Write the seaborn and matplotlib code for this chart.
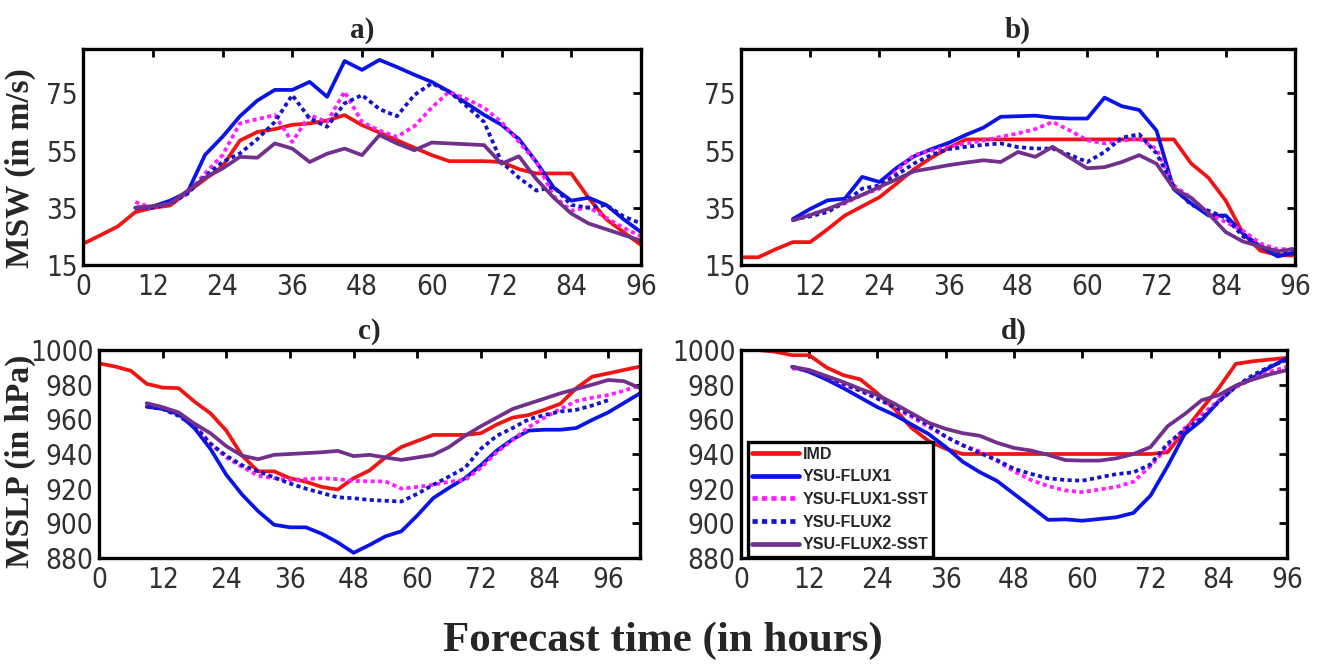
import matplotlib
matplotlib.use("Agg")
import matplotlib.pyplot as plt
from matplotlib import font_manager
from matplotlib.font_manager import FontProperties
import pandas as pd
import seaborn as sns

# ── Data (3-hourly) ───────────────────────────────────────────────────────────
SERIES = ["IMD", "YSU-FLUX1", "YSU-FLUX1-SST", "YSU-FLUX2", "YSU-FLUX2-SST"]

HOURS_OBS = list(range(0, 97, 3))      # IMD, panels a b d
HOURS_OBS_C = list(range(0, 103, 3))   # IMD, panel c
HOURS_MODEL = list(range(9, 97, 3))    # model runs start at +9 h
HOURS_MODEL_C = list(range(9, 103, 3))

X_TICKS = [0, 12, 24, 36, 48, 60, 72, 84, 96]
MSW_TICKS = [15, 35, 55, 75]
MSLP_TICKS = [880, 900, 920, 940, 960, 980, 1000]

# a) MSW, first cyclone
MSW_A_IMD = [22.4, 25.4, 28.5, 33.5, 35, 35.8, 40.5, 45, 49.5, 58.5, 61.5,
             62.5, 64, 64.5, 65.5, 67.4, 63.9, 61.3, 58.6, 56, 53.4, 51.3,
             51.3, 51.3, 51, 48.5, 47, 47, 47, 38.4, 31, 26.5, 22]
MSW_A_FLUX1 = [35, 35.5, 37.5, 40.5, 53.5, 59.8, 67, 72.5, 76.2, 76.2, 79,
               73.8, 86.3, 83.2, 86.7, 84.2, 81.5, 79, 75.6, 71.5, 67.5, 64,
               59, 51, 42, 37.5, 38.5, 36, 31, 26.5]
MSW_A_FLUX1_SST = [37, 35, 36.5, 40, 47, 53.4, 64.5, 66, 67.4, 58, 67.4, 65,
                   75.6, 65, 62, 59.8, 63.5, 70, 75.6, 73, 70, 65, 58, 51,
                   39, 34, 35.2, 31.5, 28, 25]
MSW_A_FLUX2 = [35, 35, 36.5, 40, 46, 51, 54, 59, 65, 74.4, 66.2, 63.3, 71.5,
               74.4, 69.5, 67, 74.4, 78.5, 75.6, 70.5, 65, 51, 45.5, 41,
               42.3, 36, 35, 36, 32, 29.5]
MSW_A_FLUX2_SST = [35, 35.5, 36.5, 41, 45.5, 48.7, 52.8, 52.5, 57.5, 55.7, 51,
                   53.9, 55.7, 53.4, 60.4, 57.5, 55.1, 57.8, 57.5, 57.2, 56.9,
                   50.4, 53, 45, 38.5, 33, 29.5, 27.5, 25.5, 23.5]

# b) MSW, second cyclone
MSW_B_IMD = [17.7, 17.7, 20.5, 23, 23, 27.5, 32.3, 35.5, 38.7, 43.5, 48.5,
             52.5, 56, 58.9, 58.9, 58.9, 58.9, 58.9, 58.9, 58.9, 58.9, 58.9,
             58.9, 58.9, 58.9, 58.9, 50.5, 45.5, 37.5, 26, 20, 18.5, 18.3]
MSW_B_FLUX1 = [31.1, 34.6, 37.6, 38.2, 45.8, 44, 49, 53, 55.5, 57.7, 60.5, 63,
               66.8, 67, 67.2, 66.5, 66.2, 66.2, 73.5, 70.5, 69.2, 62, 41.5,
               36.5, 32.3, 32.3, 26, 21.5, 18, 19.4]
MSW_B_FLUX1_SST = [30.6, 32.5, 34.5, 36.5, 39.5, 41.7, 48, 53.4, 55, 56.3,
                   57.5, 58.5, 59.8, 61, 62.5, 65, 62, 58.6, 57.5, 58.5, 59.2,
                   55.5, 42.8, 38.5, 33, 30, 27, 22.5, 20.5, 20.6]
MSW_B_FLUX2 = [31, 32, 33.5, 37, 41.7, 42.8, 46.5, 50.5, 53.5, 55.5, 56.3, 57,
               57.5, 56.2, 55.7, 55.7, 53.5, 51, 54.5, 59.5, 60.7, 54, 42.5,
               36, 34, 31.5, 25, 21.5, 19.5, 18.9]
MSW_B_FLUX2_SST = [30.6, 32.5, 34.5, 37, 39.5, 42.3, 45, 47.8, 48.8, 49.9,
                   50.8, 51.6, 51, 54.5, 52.8, 56.3, 52.5, 48.8, 49.2, 51,
                   53.4, 50.4, 41.7, 38.5, 33, 26.5, 23.2, 21.5, 19.8, 20.6]

# c) MSLP, first cyclone
MSLP_C_IMD = [992.3, 990.5, 988, 980.5, 978.3, 978, 970.2, 963.5, 953.5, 939,
              930, 930, 926, 924, 921, 919.5, 926, 930.5, 938, 944, 947.5,
              951, 951, 951, 952, 957, 961, 962.5, 965.5, 969, 978, 984.6,
              986.5, 988.5, 990.4]
MSLP_C_FLUX1 = [967.3, 966, 963, 954.9, 943, 928, 916.5, 907, 899.2, 897.7,
                897.7, 894, 889, 883, 887.5, 892.5, 895.4, 904.5, 914.5,
                920.5, 926, 933.5, 942, 948.5, 953.5, 954, 954, 955, 959.7,
                964, 969.5, 975]
MSLP_C_FLUX1_SST = [968.3, 966, 962.5, 956.8, 946, 938, 932.5, 927.5, 926,
                    925, 925.5, 926, 925.5, 924.5, 924.2, 924.2, 920, 921,
                    922.2, 924, 925, 932, 941, 948, 955.5, 961, 966, 970.5,
                    972.5, 974, 976.5, 979.8]
MSLP_C_FLUX2 = [967.3, 966, 962, 956, 946, 939, 933.5, 930, 926.5, 923, 920,
                917.5, 915, 914.5, 913.5, 913, 912.6, 917, 922.2, 927, 932,
                943, 950.5, 955, 960, 962.5, 964.5, 965.5, 968, 971]
MSLP_C_FLUX2_SST = [969.3, 967, 964, 957.5, 952, 944.5, 939, 937, 939.5, 940,
                    940.5, 941, 941.8, 938.8, 939.5, 938, 936.6, 938, 939.5,
                    944, 950.5, 956, 961, 966, 969, 972, 975, 977.5, 980,
                    982.7, 982, 978]

# d) MSLP, second cyclone
MSLP_D_IMD = [1000, 1000, 999, 997, 997, 990, 985.5, 983, 975, 966, 955,
              947.5, 943, 940, 940, 940, 940, 940, 940, 940, 940, 940, 940,
              940, 940, 941, 953.5, 966, 978, 992, 993.5, 994.5, 995.5]
MSLP_D_FLUX1 = [990.3, 987.4, 983, 978, 972.5, 967, 962.5, 957, 951.5, 944,
                935.5, 929.5, 924.5, 917, 909.5, 902, 902.3, 901.5, 902.5,
                903.5, 906, 916, 933, 951.5, 959.5, 970.5, 979, 984, 990,
                995.2]
MSLP_D_FLUX1_SST = [989.4, 988, 984, 980, 976.5, 972, 966.5, 961.5, 955.5,
                    950, 945, 941.5, 936, 930, 925, 921.5, 919, 918, 919.5,
                    921, 924, 933, 944, 955, 962.5, 971, 978.5, 983.5, 987.5,
                    990.3]
MSLP_D_FLUX2 = [990.3, 988, 984, 980.5, 976.5, 972, 967, 962.5, 956.5, 950,
                945, 940.5, 936.5, 931.5, 928.5, 926, 925, 924.6, 926.5,
                928.4, 929.4, 934, 946, 954, 960.5, 970, 979, 985.5, 990.5,
                994.2]
MSLP_D_FLUX2_SST = [990.3, 988.5, 985, 981.5, 977.5, 974, 969, 963.5, 958,
                    954.5, 952, 950.5, 946.5, 943.5, 942, 939.5, 936.5, 936.2,
                    936.2, 937.5, 940, 944, 956, 963, 971, 974, 979.5, 983,
                    986, 988.4]

COLORS = {
    "IMD": "#f01414",
    "YSU-FLUX1": "#0a14e6",
    "YSU-FLUX1-SST": "#ff1eff",
    "YSU-FLUX2": "#1414c8",
    "YSU-FLUX2-SST": "#70308c",
}
DOTTED = {"YSU-FLUX1-SST", "YSU-FLUX2"}

# ── Style ─────────────────────────────────────────────────────────────────────
sns.set_theme(style="white")
plt.rcParams["font.family"] = ["DejaVu Sans"]

_fonts = font_manager.fontManager.ttflist
_names = {f.name for f in _fonts}
if "DejaVu Sans Condensed" in _names:
    TICK_FONT = FontProperties(family="DejaVu Sans Condensed", size=20)
elif any(f.name == "DejaVu Sans" and f.stretch == "condensed" for f in _fonts):
    TICK_FONT = FontProperties(family="DejaVu Sans", stretch="condensed", size=20)
elif "Liberation Sans Narrow" in _names:
    TICK_FONT = FontProperties(family="Liberation Sans Narrow", size=21)
else:
    TICK_FONT = FontProperties(family="DejaVu Sans", size=17)

SERIF = "Liberation Serif"

W, H = 1327, 670
fig = plt.figure(figsize=(W / 100, H / 100), dpi=100)


def add_axes(left, right, top, bottom):
    # pixel box -> figure fraction
    return fig.add_axes([left / W, 1 - bottom / H, (right - left) / W, (bottom - top) / H])


def draw(ax, obs_hours, obs, model_hours, models, xlim, ylim, yticks, title):
    frame = pd.DataFrame({"hour": obs_hours, "value": obs})
    sns.lineplot(data=frame, x="hour", y="value", ax=ax, color=COLORS["IMD"],
                 lw=2.7, label="IMD", legend=False)
    for name, (hours, vals) in zip(SERIES[1:], zip(model_hours, models)):
        frame = pd.DataFrame({"hour": hours, "value": vals})
        style = dict(dashes=(1.1, 0.9)) if name in DOTTED else {}
        sns.lineplot(data=frame, x="hour", y="value", ax=ax, color=COLORS[name],
                     lw=2.7, label=name, legend=False, **style)
    ax.set_xlim(*xlim)
    ax.set_ylim(*ylim)
    ax.set_xticks(X_TICKS)
    ax.set_yticks(yticks)
    ax.set_xlabel("")
    ax.set_ylabel("")
    ax.tick_params(direction="in", top=True, right=True, length=6, width=2,
                   color="black", labelcolor="#303030")
    ax.tick_params(axis="x", pad=6)
    ax.tick_params(axis="y", pad=4)
    for lbl in ax.get_xticklabels() + ax.get_yticklabels():
        lbl.set_fontproperties(TICK_FONT)
    for sp in ax.spines.values():
        sp.set_linewidth(2.4)
        sp.set_color("black")
    ax.set_title(title, family=SERIF, fontsize=21, fontweight="bold", pad=8)


ax_a = add_axes(83, 641, 49, 265)
draw(ax_a, HOURS_OBS, MSW_A_IMD, [HOURS_MODEL] * 4,
     [MSW_A_FLUX1, MSW_A_FLUX1_SST, MSW_A_FLUX2, MSW_A_FLUX2_SST],
     (0, 96), (15, 90.5), MSW_TICKS, "a)")

ax_b = add_axes(741, 1295, 49, 265)
draw(ax_b, HOURS_OBS, MSW_B_IMD, [HOURS_MODEL] * 4,
     [MSW_B_FLUX1, MSW_B_FLUX1_SST, MSW_B_FLUX2, MSW_B_FLUX2_SST],
     (0, 96), (15, 90.5), MSW_TICKS, "b)")

ax_c = add_axes(99, 640, 350, 558)
draw(ax_c, HOURS_OBS_C, MSLP_C_IMD,
     [HOURS_MODEL_C, HOURS_MODEL_C, HOURS_MODEL, HOURS_MODEL_C],
     [MSLP_C_FLUX1, MSLP_C_FLUX1_SST, MSLP_C_FLUX2, MSLP_C_FLUX2_SST],
     (0, 102), (880, 1000), MSLP_TICKS, "c)")

ax_d = add_axes(741, 1287, 350, 558)
draw(ax_d, HOURS_OBS, MSLP_D_IMD, [HOURS_MODEL] * 4,
     [MSLP_D_FLUX1, MSLP_D_FLUX1_SST, MSLP_D_FLUX2, MSLP_D_FLUX2_SST],
     (0, 96), (880, 1000), MSLP_TICKS, "d)")

leg = ax_d.legend(loc="lower left", bbox_to_anchor=(0.012, 0.004),
                  frameon=True, fancybox=False, framealpha=1,
                  edgecolor="black", borderaxespad=0, borderpad=0.3,
                  handlelength=2.9, handletextpad=0.25, labelspacing=0.48,
                  prop=FontProperties(family="Liberation Sans", weight="bold", size=11.5))
leg.get_frame().set_linewidth(2.4)
for line in leg.get_lines():
    line.set_linewidth(3.4)

fig.text(20 / W, 1 - 168 / H, "MSW (in m/s)", rotation=90, ha="center", va="center",
         family=SERIF, fontsize=24, fontweight="bold")
fig.text(20 / W, 1 - 461 / H, "MSLP (in hPa)", rotation=90, ha="center", va="center",
         family=SERIF, fontsize=24, fontweight="bold")
fig.text(663 / W, 1 - 641 / H, "Forecast time (in hours)", ha="center", va="center",
         family=SERIF, fontsize=31, fontweight="bold")

fig.savefig("out.png", dpi=100)
